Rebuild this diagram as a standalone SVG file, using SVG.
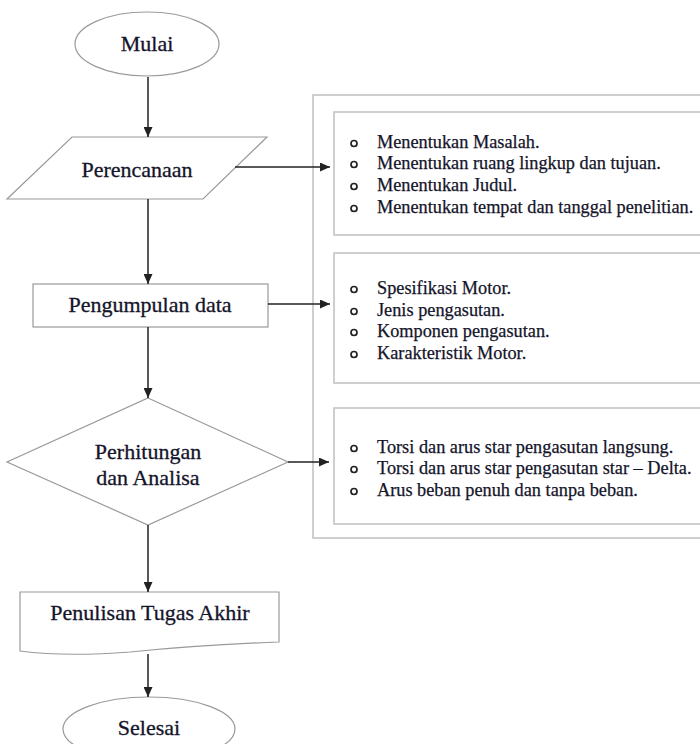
<svg xmlns="http://www.w3.org/2000/svg" width="700" height="744" viewBox="0 0 700 744">
<defs>
<style>
.shape{fill:#fff;stroke:#9a9a9a;stroke-width:1.2}
.panel{fill:#fff;stroke:#c4c4c4;stroke-width:1.6}
.lbl{font-family:"Liberation Serif","Times New Roman",serif;font-size:22px;fill:#14142a;stroke:#14142a;stroke-width:0.3;text-anchor:middle}
.li{font-family:"Liberation Serif","Times New Roman",serif;font-size:18.3px;fill:#14142a;stroke:#14142a;stroke-width:0.25}
.bul{fill:none;stroke:#222;stroke-width:1.7}
.conn{stroke:#222;stroke-width:1.5;fill:none;marker-end:url(#ah)}
</style>
<marker id="ah" markerUnits="userSpaceOnUse" markerWidth="10" markerHeight="9" refX="10" refY="4.5" orient="auto">
<path d="M0,0 L10,4.5 L0,9 Z" fill="#222"/>
</marker>
</defs>
<rect width="700" height="744" fill="#fff"/>

<g id="panel">
<rect class="panel" x="313" y="95" width="400" height="443"/>
</g>

<g id="list1">
<rect class="panel" x="334" y="112" width="380" height="123"/>
<circle class="bul" cx="354" cy="143.5" r="3"/>
<circle class="bul" cx="354" cy="164.5" r="3"/>
<circle class="bul" cx="354" cy="186.5" r="3"/>
<circle class="bul" cx="354" cy="208.5" r="3"/>
<text class="li" x="377" y="148">Menentukan Masalah.</text>
<text class="li" x="377" y="169">Menentukan ruang lingkup dan tujuan.</text>
<text class="li" x="377" y="191">Menentukan Judul.</text>
<text class="li" x="377" y="213">Menentukan tempat dan tanggal penelitian.</text>
</g>

<g id="list2">
<rect class="panel" x="334" y="253" width="380" height="130"/>
<circle class="bul" cx="354" cy="289.5" r="3"/>
<circle class="bul" cx="354" cy="311.5" r="3"/>
<circle class="bul" cx="354" cy="332.5" r="3"/>
<circle class="bul" cx="354" cy="354.5" r="3"/>
<text class="li" x="377" y="294">Spesifikasi Motor.</text>
<text class="li" x="377" y="316">Jenis pengasutan.</text>
<text class="li" x="377" y="337">Komponen pengasutan.</text>
<text class="li" x="377" y="359">Karakteristik Motor.</text>
</g>

<g id="list3">
<rect class="panel" x="334" y="408" width="380" height="116"/>
<circle class="bul" cx="354" cy="448.5" r="3"/>
<circle class="bul" cx="354" cy="469.5" r="3"/>
<circle class="bul" cx="354" cy="491.5" r="3"/>
<text class="li" x="377" y="453">Torsi dan arus star pengasutan langsung.</text>
<text class="li" x="377" y="474">Torsi dan arus star pengasutan star – Delta.</text>
<text class="li" x="377" y="496">Arus beban penuh dan tanpa beban.</text>
</g>

<g id="mulai">
<ellipse class="shape" cx="147" cy="44" rx="72" ry="32"/>
<text class="lbl" x="147" y="51">Mulai</text>
</g>

<g id="perencanaan">
<polygon class="shape" points="72,137 267,137 203,199 7,199"/>
<text class="lbl" x="137" y="177">Perencanaan</text>
</g>

<g id="pengumpulan">
<rect class="shape" x="33" y="284" width="235" height="43"/>
<text class="lbl" x="150" y="312">Pengumpulan data</text>
</g>

<g id="perhitungan">
<polygon class="shape" points="148,398 288,462 148,525 7,462"/>
<text class="lbl" x="148" y="459">Perhitungan</text>
<text class="lbl" x="148" y="485">dan Analisa</text>
</g>

<g id="penulisan">
<path class="shape" d="M20,592 H279 V642 Q200,645 130,652 Q65,657 20,651 Z"/>
<text class="lbl" x="150" y="620">Penulisan Tugas Akhir</text>
</g>

<g id="selesai">
<ellipse class="shape" cx="149" cy="729" rx="86" ry="32"/>
<text class="lbl" x="149" y="735">Selesai</text>
</g>

<g id="connectors">
<line class="conn" x1="148" y1="77" x2="148" y2="137"/>
<line class="conn" x1="148" y1="199" x2="148" y2="284"/>
<line class="conn" x1="148" y1="327" x2="148" y2="398"/>
<line class="conn" x1="148" y1="525" x2="148" y2="592"/>
<line class="conn" x1="148" y1="654" x2="148" y2="697"/>
<line class="conn" x1="235" y1="167" x2="330" y2="167"/>
<line class="conn" x1="268" y1="304" x2="330" y2="304"/>
<line class="conn" x1="288" y1="462" x2="329" y2="462"/>
</g>
</svg>
